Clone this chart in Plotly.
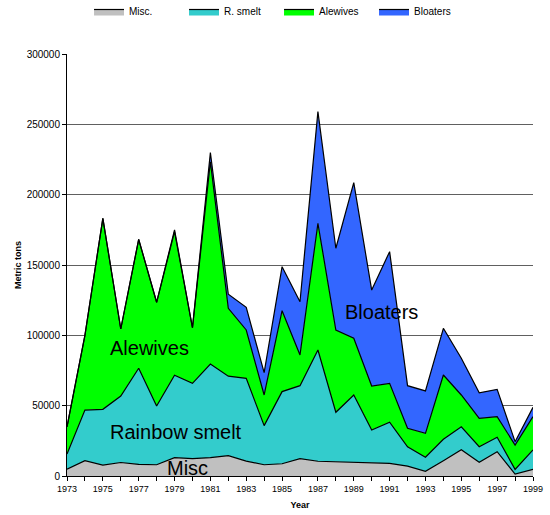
import plotly.graph_objects as go

years = list(range(1973, 2000))
misc = [4.8, 10.9, 7.8, 9.6, 8.3, 8.0, 13.1, 12.3, 13.0, 14.5, 10.6, 8.0, 8.7, 12.3,
        10.5, 10.0, 9.5, 9.0, 9.0, 7.0, 3.3, 10.9, 18.7, 9.7, 17.3, 1.4, 4.7]
smelt = [10.8, 36.0, 39.6, 47.3, 68.3, 41.8, 58.5, 53.6, 66.6, 56.5, 58.8, 27.8, 51.3, 51.9,
         79.1, 35.3, 48.1, 23.7, 29.2, 13.8, 10.0, 15.2, 16.3, 11.1, 10.2, 3.3, 13.8]
alewives = [19.4, 53.1, 135.8, 47.6, 91.6, 73.7, 102.1, 39.5, 143.8, 48.2, 34.4, 21.8, 57.5, 21.8,
            90.0, 58.5, 40.3, 31.3, 27.7, 13.1, 17.0, 45.7, 22.6, 20.2, 14.7, 17.3, 23.7]
bloaters = [0, 0, 0, 0, 0, 0, 1.3, 0, 6.6, 10.0, 16.1, 15.9, 31.3, 37.9,
            79.4, 58.1, 110.6, 68.2, 93.6, 30.3, 30.2, 33.2, 26.1, 18.2, 19.4, 2.4, 6.6]

series_names = ["Misc.", "R. smelt", "Alewives", "Bloaters"]
series_vals = [misc, smelt, alewives, bloaters]
colors = ["#C0C0C0", "#33CCCC", "#00FF00", "#3366FF"]

fig = go.Figure()
for name, vals, col in zip(series_names, series_vals, colors):
    fig.add_trace(go.Scatter(
        x=years, y=[v * 1000 for v in vals], name=name,
        mode="lines", stackgroup="one",
        line=dict(color="black", width=1.2),
        fillcolor=col,
    ))

labels = [("Alewives", 1977.6, 91000), ("Rainbow smelt", 1979.1, 31300),
          ("Misc", 1979.7, 5400), ("Bloaters", 1990.55, 116600)]
for txt, xx, yy in labels:
    fig.add_annotation(x=xx, y=yy, text=txt, showarrow=False,
                       font=dict(family="Liberation Sans, Arial", size=20, color="black"))

fig.update_layout(
    width=550, height=515,
    margin=dict(l=67, r=17, t=54, b=39, autoexpand=False),
    plot_bgcolor="white", paper_bgcolor="white",
    font=dict(family="Liberation Sans, Arial", color="black"),
    showlegend=True,
    legend=dict(orientation="h", x=0.455, xanchor="center", y=1.1007, yanchor="middle",
                itemwidth=30, entrywidth=50, tracegroupgap=0,
                font=dict(size=10), traceorder="normal"),
    xaxis=dict(range=[1973, 1999], tickmode="array", tickvals=list(range(1973, 2000, 2)),
               ticks="outside", ticklen=4, tickcolor="black", showline=True, linecolor="black",
               linewidth=1, showgrid=False, zeroline=False, tickfont=dict(size=9), automargin=False,
               ticklabeloverflow="allow",
               minor=dict(tickvals=list(range(1973, 2000)), ticks="outside", ticklen=4, tickcolor="black"),
               title=dict(text="<b>Year</b>", font=dict(size=9), standoff=8)),
    yaxis=dict(range=[0, 300000], tickvals=list(range(0, 300001, 50000)), tickformat="d",
               ticks="outside", ticklen=4, tickcolor="black", showline=True, linecolor="black",
               linewidth=1, showgrid=True, gridcolor="#606060", gridwidth=1, zeroline=False,
               tickfont=dict(size=10), automargin=False,
               title=dict(text="<b>Metric tons</b>", font=dict(size=9), standoff=3)),
)
fig.write_html("out.html", config={"displayModeBar": False},
               post_script="document.body.style.margin='0';")
